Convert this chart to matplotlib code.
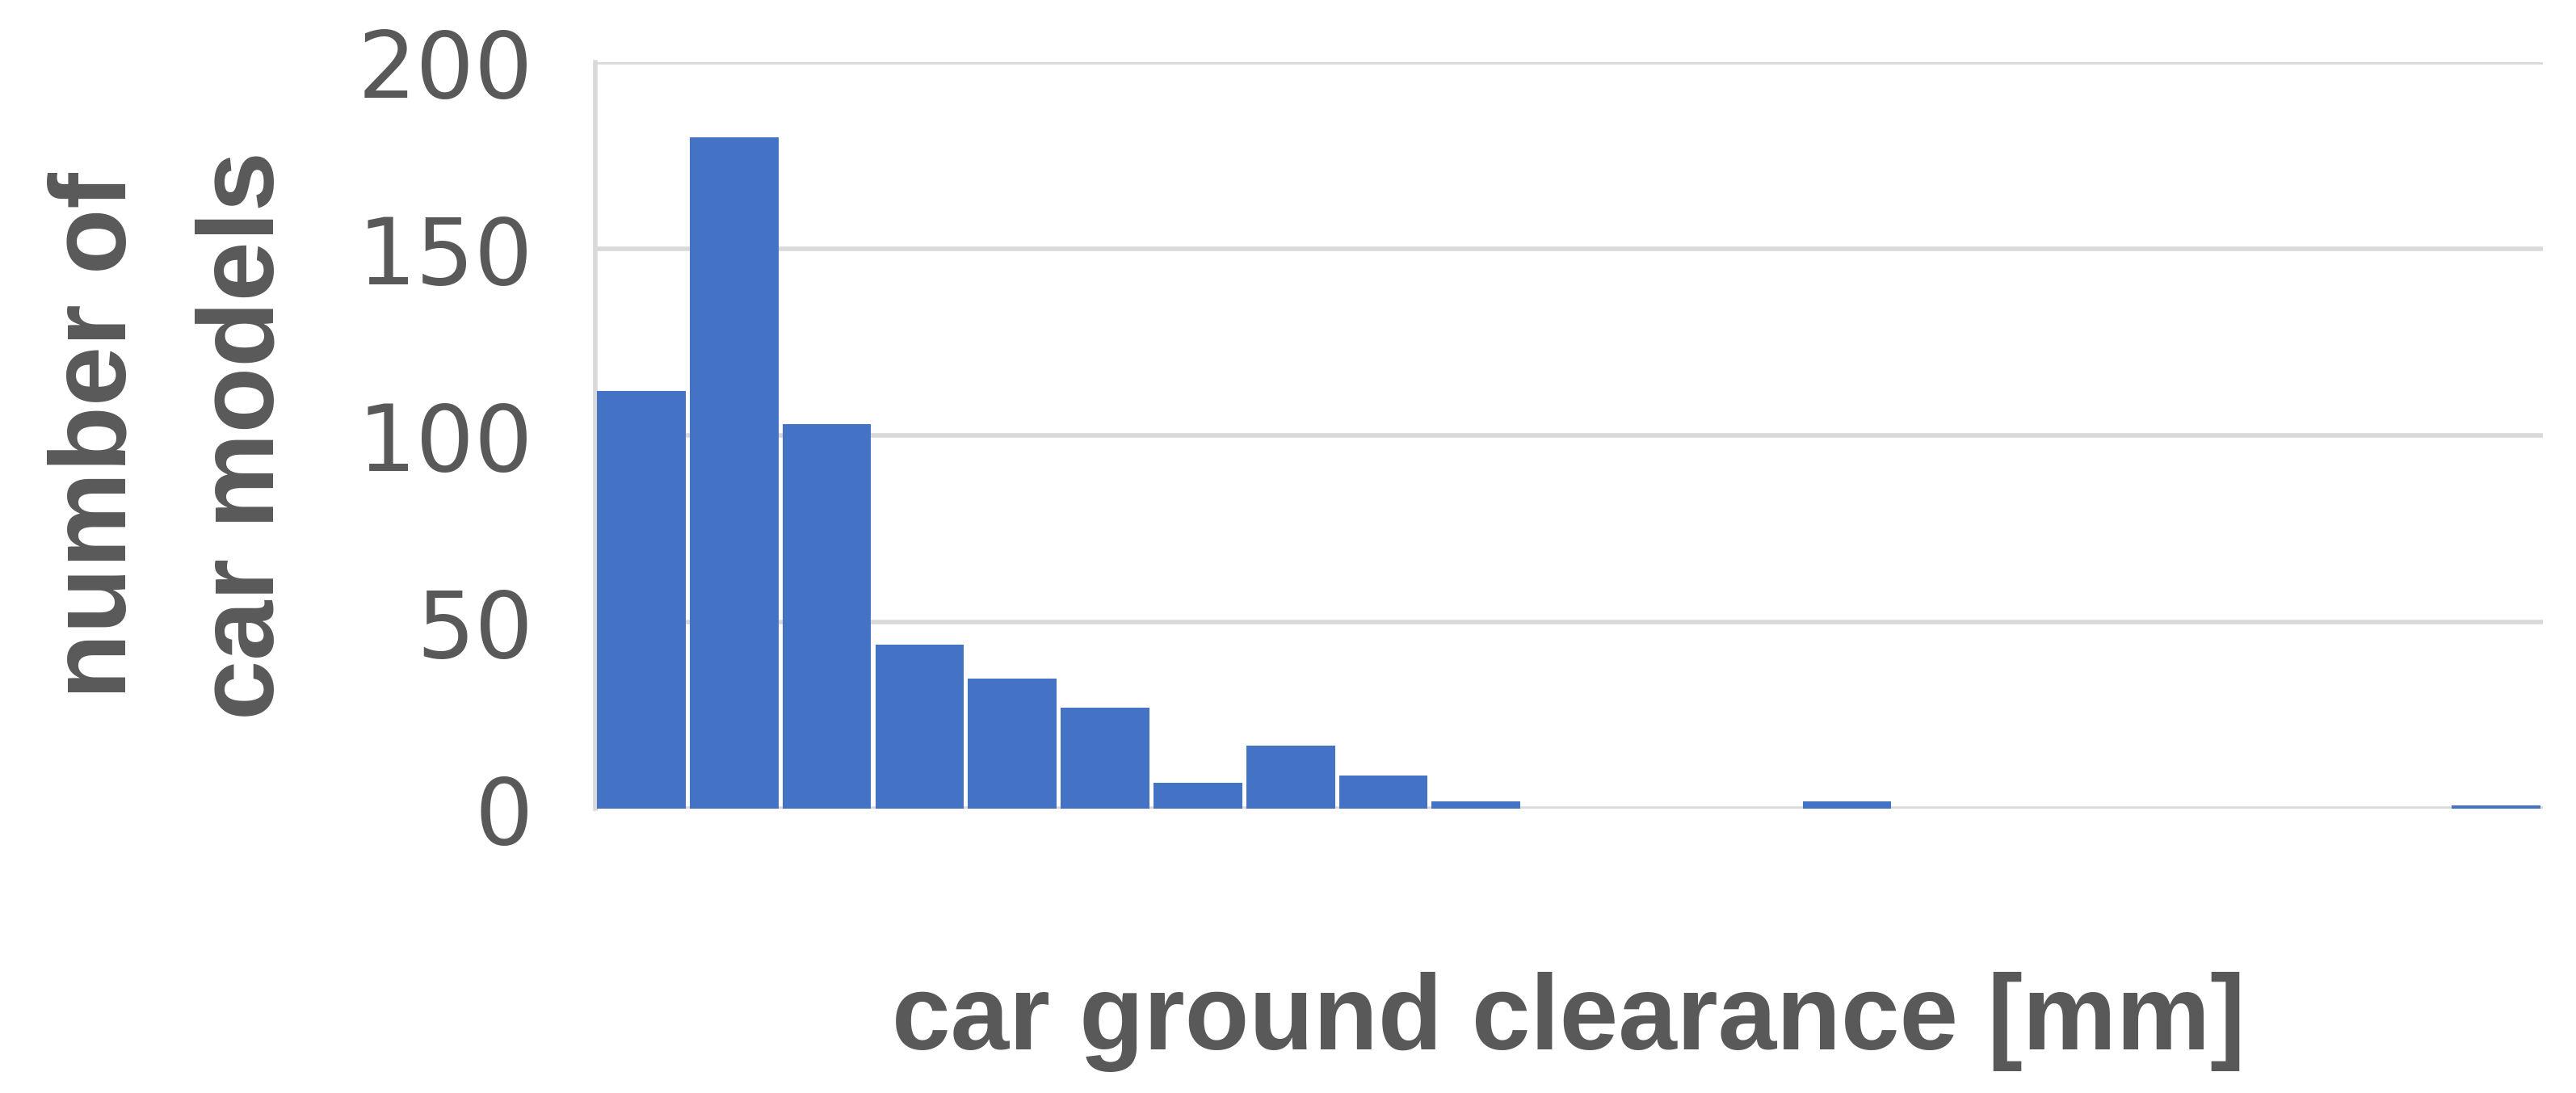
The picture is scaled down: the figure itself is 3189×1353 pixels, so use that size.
import matplotlib.pyplot as plt
import numpy as np

# histogram counts, one per bin (21 bins)
counts = [112, 180, 103, 44, 35, 27, 7, 17, 9, 2, 0, 0, 0, 2, 0, 0, 0, 0, 0, 0, 1]
y_ticks = [0, 50, 100, 150, 200]
x_label = "car ground clearance [mm]"
y_label = "number of\ncar models"

bar_color = "#4472C4"
grid_color = "#D9D9D9"
text_color = "#595959"

fig = plt.figure(figsize=(31.89, 13.53), dpi=100)
ax = fig.add_axes([0.231, 0.26, 0.756, 0.683])

# bins are drawn side by side, each one unit wide, small white gap between
positions = np.arange(len(counts)) + 0.5
ax.bar(positions, counts, width=0.955, color=bar_color, linewidth=0, zorder=3)

ax.set_xlim(0, len(counts))
ax.set_ylim(0, 200)
ax.set_yticks(y_ticks)
ax.set_xticks([])

ax.yaxis.grid(True, color=grid_color, linewidth=4, zorder=0)
for side in ["top", "right", "bottom"]:
    ax.spines[side].set_visible(False)
ax.spines["left"].set_color(grid_color)
ax.spines["left"].set_linewidth(4)

ax.tick_params(axis="y", length=0, pad=55, labelsize=82, labelcolor=text_color)
for lab in ax.get_yticklabels():
    lab.set_family("DejaVu Sans")

ax.set_xlabel(x_label, fontsize=94, fontweight="bold", color=text_color,
              family="Liberation Sans", labelpad=145)
ax.set_ylabel(y_label, fontsize=96, fontweight="bold", color=text_color,
              family="Liberation Sans", labelpad=55, linespacing=1.6)

fig.savefig("out.png", dpi=100, facecolor="white")
